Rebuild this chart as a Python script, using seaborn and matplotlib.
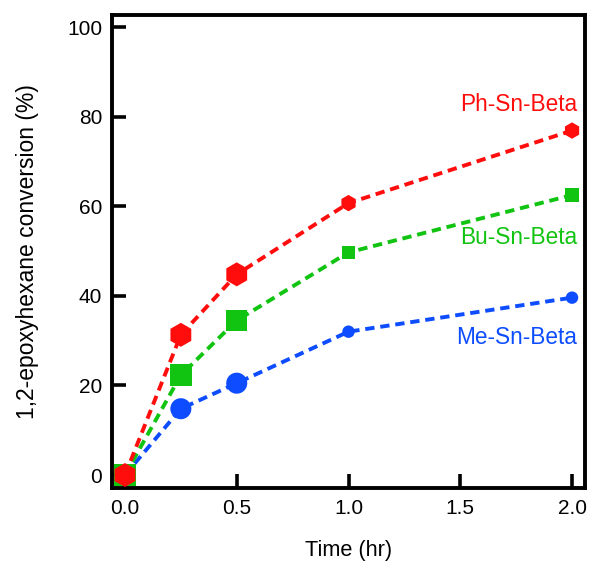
import matplotlib
matplotlib.use("Agg")
import matplotlib.pyplot as plt
import seaborn as sns
import pandas as pd

time_hr = [0.0, 0.25, 0.5, 1.0, 2.0]
ph_sn_beta = [0.0, 31.3, 44.8, 60.7, 76.9]
bu_sn_beta = [0.0, 22.3, 34.5, 49.7, 62.5]
me_sn_beta = [0.0, 14.8, 20.5, 32.0, 39.6]
point_kind = ["big", "big", "big", "small", "small"]
series_names = ["Ph-Sn-Beta", "Bu-Sn-Beta", "Me-Sn-Beta"]

sns.set_style("ticks")
plt.rcParams["font.family"] = ["Liberation Sans", "DejaVu Sans"]
plt.rcParams["text.color"] = "black"
plt.rcParams["axes.labelcolor"] = "black"
plt.rcParams["xtick.color"] = "black"
plt.rcParams["ytick.color"] = "black"

fig = plt.figure(figsize=(5.92, 5.63), dpi=100)
ax = fig.add_axes([112/592, 1-488/563, 473/592, 473/563])

styles = {
    "Me-Sn-Beta": dict(color="#0d4dff", marker="o", big=230, small=80),
    "Bu-Sn-Beta": dict(color="#11c411", marker="s", big=240, small=90),
    "Ph-Sn-Beta": dict(color="#ff0d0d", marker="h", big=300, small=140),
}
data = {"Ph-Sn-Beta": ph_sn_beta, "Bu-Sn-Beta": bu_sn_beta, "Me-Sn-Beta": me_sn_beta}

for name in ["Me-Sn-Beta", "Bu-Sn-Beta", "Ph-Sn-Beta"]:
    st = styles[name]
    df = pd.DataFrame({"t": time_hr, "y": data[name], "kind": point_kind})
    sns.lineplot(data=df, x="t", y="y", ax=ax, color=st["color"], lw=2.8,
                 linestyle=(0, (2.4, 1.5)), legend=False)
    sns.scatterplot(data=df, x="t", y="y", ax=ax, color=st["color"], marker=st["marker"],
                    size="kind", sizes={"big": st["big"], "small": st["small"]},
                    linewidth=0, legend=False, zorder=3)

label_pos = {"Ph-Sn-Beta": 82.8, "Bu-Sn-Beta": 53.1, "Me-Sn-Beta": 30.6}
for name in series_names:
    ax.text(2.022, label_pos[name], name, color=styles[name]["color"], fontsize=16.3,
            ha="right", va="center")

ax.set_xlim(-0.058, 2.058)
ax.set_ylim(-2.9, 102.7)
ax.set_xticks([0.0, 0.5, 1.0, 1.5, 2.0])
ax.set_xticklabels(["0.0", "0.5", "1.0", "1.5", "2.0"])
ax.set_yticks([0, 20, 40, 60, 80, 100])
ax.set_axisbelow(False)
for s in ax.spines.values():
    s.set_linewidth(2.8)
    s.set_color("black")
ax.xaxis.set_tick_params(which="major", direction="in", length=10, width=2.6,
                         labelsize=15, pad=8, color="black", labelcolor="black",
                         bottom=True, top=False)
ax.yaxis.set_tick_params(which="major", direction="in", length=10, width=2.6,
                         labelsize=15, pad=7, color="black", labelcolor="black",
                         left=True, right=False)
ax.set_xlabel("Time (hr)", fontsize=15.7, labelpad=16, color="black")
ax.set_ylabel("1,2-epoxyhexane conversion (%)", fontsize=16.5, labelpad=20, color="black")

fig.savefig("out.png", dpi=100)
